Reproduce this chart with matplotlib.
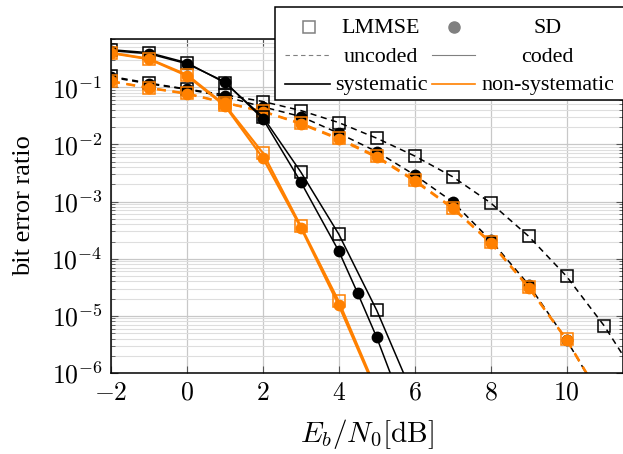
import matplotlib.pyplot as plt
from matplotlib.lines import Line2D
from matplotlib.patches import Rectangle
from matplotlib.ticker import FuncFormatter, LogLocator, NullFormatter
import numpy as np

plt.rcParams['font.family'] = 'Liberation Serif'
plt.rcParams['mathtext.fontset'] = 'cm'

# Eb/N0 grids (last point of each series lies below the plot range)
x_unc_lmmse_sys = [-2, -1, 0, 1, 2, 3, 4, 5, 6, 7, 8, 9, 10, 11, 12]
x_unc = [-2, -1, 0, 1, 2, 3, 4, 5, 6, 7, 8, 9, 10, 11]
x_cod_lmmse_sys = [-2, -1, 0, 1, 2, 3, 4, 5, 6]
x_cod_sd_sys = [-2, -1, 0, 1, 2, 3, 4, 4.5, 5, 5.5]
x_cod_nsys = [-2, -1, 0, 1, 2, 3, 4, 5]

# uncoded
ber_lmmse_unc_sys = [0.155, 0.1185, 0.093, 0.0739, 0.0564, 0.0392, 0.0241, 0.01285,
                     6.28e-3, 2.72e-3, 9.5e-4, 2.48e-4, 4.93e-5, 6.6e-6, 6e-7]
ber_sd_unc_sys = [0.150, 0.115, 0.092, 0.069, 0.0455, 0.0308, 0.0157, 7.48e-3,
                  2.92e-3, 9.9e-4, 2.11e-4, 3.53e-5, 3.8e-6, 2.9e-7]
ber_lmmse_unc_nsys = [0.128, 0.098, 0.078, 0.054, 0.038, 0.0235, 0.0128, 6.2e-3,
                      2.38e-3, 7.8e-4, 1.95e-4, 3.2e-5, 3.9e-6, 3.0e-7]
ber_sd_unc_nsys = [0.1265, 0.0968, 0.0769, 0.0534, 0.0376, 0.0229, 0.01233, 5.96e-3,
                   2.29e-3, 7.6e-4, 1.89e-4, 3.13e-5, 3.8e-6, 2.9e-7]

# coded
ber_lmmse_cod_sys = [0.455, 0.403, 0.269, 0.120, 0.0304, 3.29e-3, 2.69e-4, 1.25e-5, 3.5e-7]
ber_sd_cod_sys = [0.437, 0.387, 0.258, 0.125, 0.028, 2.2e-3, 1.36e-4, 2.48e-5, 4.2e-6, 5.6e-7]
ber_lmmse_cod_nsys = [0.403, 0.316, 0.166, 0.0493, 7.1e-3, 3.72e-4, 1.79e-5, 4.9e-7]
ber_sd_cod_nsys = [0.395, 0.310, 0.159, 0.0474, 5.8e-3, 3.5e-4, 1.53e-5, 4.5e-7]

xticks = [-2, 0, 2, 4, 6, 8, 10]

black = 'black'
orange = '#ff8000'
gray = '#808080'

W, H = 623, 454
fig = plt.figure(figsize=(W / 100, H / 100), dpi=100)
ax = fig.add_axes([0.1782, 0.1784, 0.8225, 0.7357])

sq = dict(marker='s', markersize=8.5, markerfacecolor='none', markeredgewidth=1.1)
ci = dict(marker='o', markersize=8.5, markeredgewidth=0)

# uncoded (dashed)
ax.plot(x_unc_lmmse_sys, ber_lmmse_unc_sys, '--', color=black, lw=1.1,
        markeredgecolor=black, dashes=(4, 3), **sq)
ax.plot(x_unc, ber_sd_unc_sys, '--', color=black, lw=1.1, markerfacecolor=black,
        dashes=(4, 3), **ci)
ax.plot(x_unc, ber_lmmse_unc_nsys, '--', color=orange, lw=1.6,
        markeredgecolor=orange, dashes=(4, 3), **sq)
ax.plot(x_unc, ber_sd_unc_nsys, '--', color=orange, lw=1.6, markerfacecolor=orange,
        dashes=(4, 3), **ci)

# coded (solid)
ax.plot(x_cod_lmmse_sys, ber_lmmse_cod_sys, '-', color=black, lw=1.1,
        markeredgecolor=black, **sq)
ax.plot(x_cod_sd_sys, ber_sd_cod_sys, '-', color=black, lw=1.1, markerfacecolor=black, **ci)
ax.plot(x_cod_nsys, ber_lmmse_cod_nsys, '-', color=orange, lw=1.6,
        markeredgecolor=orange, **sq)
ax.plot(x_cod_nsys, ber_sd_cod_nsys, '-', color=orange, lw=1.6, markerfacecolor=orange, **ci)

ax.set_yscale('log')
ax.set_xlim(-2, 11.5)
ax.set_ylim(1e-6, 0.7)
ax.set_xticks(xticks)
ax.xaxis.set_major_formatter(FuncFormatter(lambda v, p: '$%g$' % v))
ax.yaxis.set_major_locator(LogLocator(base=10, numticks=10))
ax.yaxis.set_minor_locator(LogLocator(base=10, subs=np.arange(2, 10), numticks=20))
ax.yaxis.set_major_formatter(FuncFormatter(lambda v, p: '$10^{%d}$' % round(np.log10(v))))
ax.yaxis.set_minor_formatter(NullFormatter())

ax.grid(True, which='major', color='#c8c8c8', lw=0.9)
ax.grid(True, which='minor', axis='y', color='#dedede', lw=0.8)
ax.set_axisbelow(True)
ax.tick_params(which='both', direction='in', top=True, right=True, labelsize=18.5,
               color='#555555')
ax.tick_params(which='major', length=5)
ax.tick_params(axis='x', which='major', pad=7)
ax.tick_params(axis='y', which='major', pad=6)
ax.tick_params(which='minor', length=3)
for s in ax.spines.values():
    s.set_linewidth(1.1)

ax.set_xlabel(r'$E_b/N_0[\mathrm{dB}]$', fontsize=21, labelpad=9)
ax.set_ylabel('bit error ratio', fontsize=19, labelpad=12)


# legend box in the pgfplots style: 2 columns, labels centred
def fx(px):
    return px / W


def fy(py):
    return 1 - py / H


fig.add_artist(Rectangle((fx(275), fy(100)), fx(400), fy(7) - fy(100),
                         transform=fig.transFigure, facecolor='white',
                         edgecolor='black', lw=1.1, zorder=4))

rows = [27, 55, 84]
text_rows = [33, 61.5, 90]
labels_left = ['LMMSE', 'uncoded', 'systematic']
labels_right = ['SD', 'coded', 'non-systematic']
tf = fig.transFigure

fig.add_artist(Line2D([fx(309)], [fy(rows[0])], ls='none', marker='s', markersize=8,
                      markerfacecolor='none', markeredgecolor=gray,
                      markeredgewidth=1.1, transform=tf, zorder=5))
fig.add_artist(Line2D([fx(285), fx(330)], [fy(rows[1])] * 2, ls='--', color=gray,
                      lw=0.8, dashes=(4, 3), transform=tf, zorder=5))
fig.add_artist(Line2D([fx(285), fx(330)], [fy(rows[2])] * 2, color=black, lw=1.2,
                      transform=tf, zorder=5))
fig.add_artist(Line2D([fx(454)], [fy(rows[0])], ls='none', marker='o', markersize=8,
                      color=gray, transform=tf, zorder=5))
fig.add_artist(Line2D([fx(432), fx(475)], [fy(rows[1])] * 2, color=gray, lw=0.8,
                      transform=tf, zorder=5))
fig.add_artist(Line2D([fx(432), fx(475)], [fy(rows[2])] * 2, color=orange, lw=1.2,
                      transform=tf, zorder=5))

for lab, ty in zip(labels_left, text_rows):
    fig.text(fx(381), fy(ty), lab, ha='center', va='baseline', fontsize=15.8, zorder=6)
for lab, ty in zip(labels_right, text_rows):
    fig.text(fx(547.5), fy(ty), lab, ha='center', va='baseline', fontsize=15.8, zorder=6)

fig.savefig('out.png', dpi=100)
